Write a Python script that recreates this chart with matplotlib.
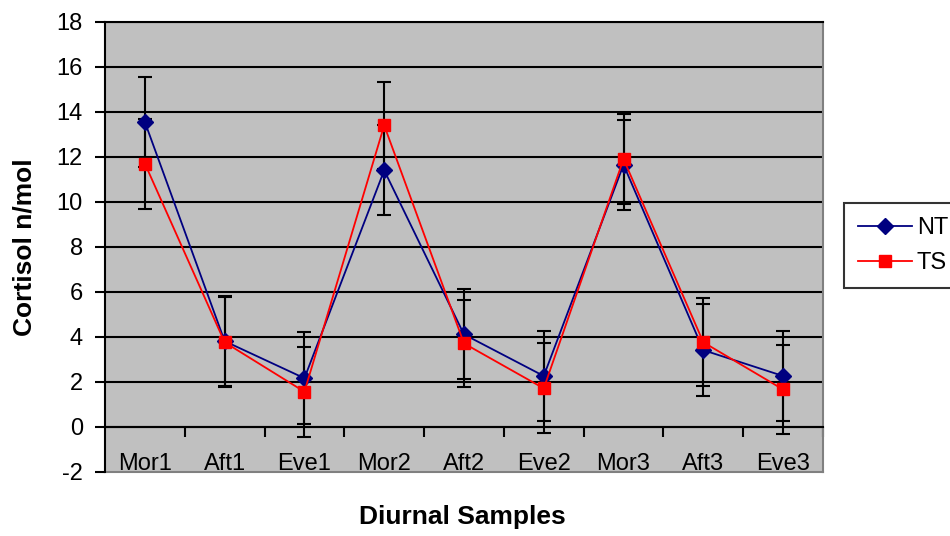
import numpy as np
import matplotlib.pyplot as plt

plt.rcParams["font.family"] = ["Liberation Sans", "DejaVu Sans"]
plt.rcParams["axes.unicode_minus"] = False

samples = ["Mor1", "Aft1", "Eve1", "Mor2", "Aft2", "Eve2", "Mor3", "Aft3", "Eve3"]
nt_vals = [13.55, 3.8, 2.15, 11.4, 4.1, 2.25, 11.65, 3.4, 2.25]
nt_err = [2.0, 2.0, 2.05, 2.0, 2.0, 2.0, 2.0, 2.05, 2.0]
ts_vals = [11.7, 3.75, 1.55, 13.4, 3.7, 1.7, 11.9, 3.75, 1.65]
ts_err = [2.0, 2.0, 2.0, 1.95, 1.95, 2.0, 2.0, 1.95, 2.0]
y_ticks = list(range(-2, 19, 2))

fig = plt.figure(figsize=(9.5, 5.36), dpi=100)
ax = fig.add_axes([0.1105, 0.1203, 0.7558, 0.8387])
ax.set_facecolor("#c0c0c0")

x = np.arange(1, len(samples) + 1)

# gridlines (black, Excel style); -2 is the grey frame edge
for v in y_ticks:
    if v > -2:
        ax.axhline(v, color="black", lw=1.5, zorder=1)
ax.axhline(-2, color="#808080", lw=1.5, zorder=1, clip_on=False)

ax.errorbar(x, nt_vals, yerr=nt_err, fmt="none", ecolor="black",
            elinewidth=1.5, capsize=5, capthick=1.5, zorder=2)
ax.errorbar(x, ts_vals, yerr=ts_err, fmt="none", ecolor="black",
            elinewidth=1.5, capsize=5, capthick=1.5, zorder=2)
ax.plot(x, nt_vals, color="#000080", lw=1.3, marker="D", ms=8,
        mfc="#000080", mec="#000080", label="NT", zorder=3)
ax.plot(x, ts_vals, color="#ff0000", lw=1.3, marker="s", ms=8.5,
        mfc="#ff0000", mec="#ff0000", label="TS", zorder=4)

ax.set_xlim(0.5, len(samples) + 0.5)
ax.set_ylim(-2, 18)
ax.set_yticks(y_ticks)
ax.set_xticks(x)
ax.set_xticklabels(samples)
ax.set_xticks(np.arange(1.5, len(samples) + 1), minor=True)

ax.spines["bottom"].set_position(("data", 0))
ax.spines["bottom"].set_linewidth(1.5)
ax.spines["left"].set_linewidth(1.5)
ax.spines["top"].set_linewidth(1.5)
ax.spines["right"].set_color("#808080")
ax.spines["right"].set_linewidth(1.5)

ax.tick_params(axis="y", direction="out", length=7, width=1.5, pad=9,
               labelsize=17)
ax.tick_params(axis="x", which="major", length=0, pad=19, labelsize=17)
ax.tick_params(axis="x", which="minor", direction="out", length=7, width=1.5)

ax.set_ylabel("Cortisol n/mol", fontsize=19, fontweight="bold")
ax.yaxis.set_label_coords(-0.095, 0.5)
fig.text(0.487, 0.035, "Diurnal Samples", fontsize=19, fontweight="bold",
         ha="center", va="center")

leg = fig.legend(loc="upper left", bbox_to_anchor=(0.888, 0.621),
                 fontsize=17, frameon=True, fancybox=False,
                 handlelength=2.3, handletextpad=0.2, labelspacing=0.55,
                 borderpad=0.6, borderaxespad=0)
leg.get_frame().set_edgecolor("black")
leg.get_frame().set_linewidth(1.5)

fig.savefig("out.png", dpi=100)
